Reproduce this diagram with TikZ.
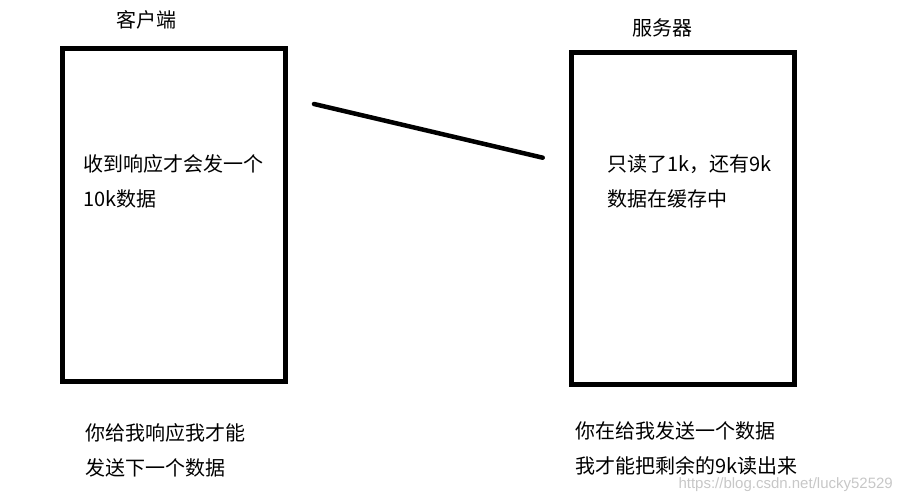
\documentclass[tikz,border=0pt]{standalone}
\usepackage{fontspec}
\setmainfont{Noto Sans CJK SC}
\newfontfamily\markfont{Liberation Sans}
\usetikzlibrary{positioning, calc}
\tikzstyle{box}=[rectangle, draw=black, line width=5pt, outer sep=0pt, inner sep=0pt]
\tikzstyle{title}=[font=\fontsize{20}{24}\selectfont, inner sep=0pt]
\tikzstyle{note}=[font=\fontsize{20}{35}\selectfont, align=left, anchor=west, inner sep=0pt]
\tikzstyle{link}=[line width=4.5pt, line cap=round, draw=black]

\begin{document}
\begin{tikzpicture}[x=1pt, y=-1pt]
  \useasboundingbox (0,0) rectangle (904,502);
  % the two ends
  \node(client) [box, minimum width=222.5pt, minimum height=332.5pt] at (173.75,215.25) {};
  \node(server) [box, minimum width=222.5pt, minimum height=331.5pt] at (682.75,218.25) {};
  \node(clientTitle) [title] at (146,20) {客户端};
  \node(serverTitle) [title] at (662.5,27.5) {服务器};
  \node(clientMsg) [note] at (83,181) {收到响应才会发一个\\10k数据};
  \node(serverMsg) [note] at (607,181.5) {只读了1k，还有9k\\数据在缓存中};
  % the connection
  \coordinate(linkA) at (314,104);
  \coordinate(linkB) at (542.7,157.7);
  \draw [link] (linkA) -- (linkB);
  % remarks below
  \node(clientNote) [note] at (85,450.5) {你给我响应我才能\\发送下一个数据};
  \node(serverNote) [note] at (575,448.5) {你在给我发送一个数据\\我才能把剩余的9k读出来};
  \node(mark) [anchor=east, inner sep=0pt, text=black!22, font=\markfont\fontsize{15}{18}\selectfont] at (893,485) {https://blog.csdn.net/lucky52529};
\end{tikzpicture}
\end{document}
